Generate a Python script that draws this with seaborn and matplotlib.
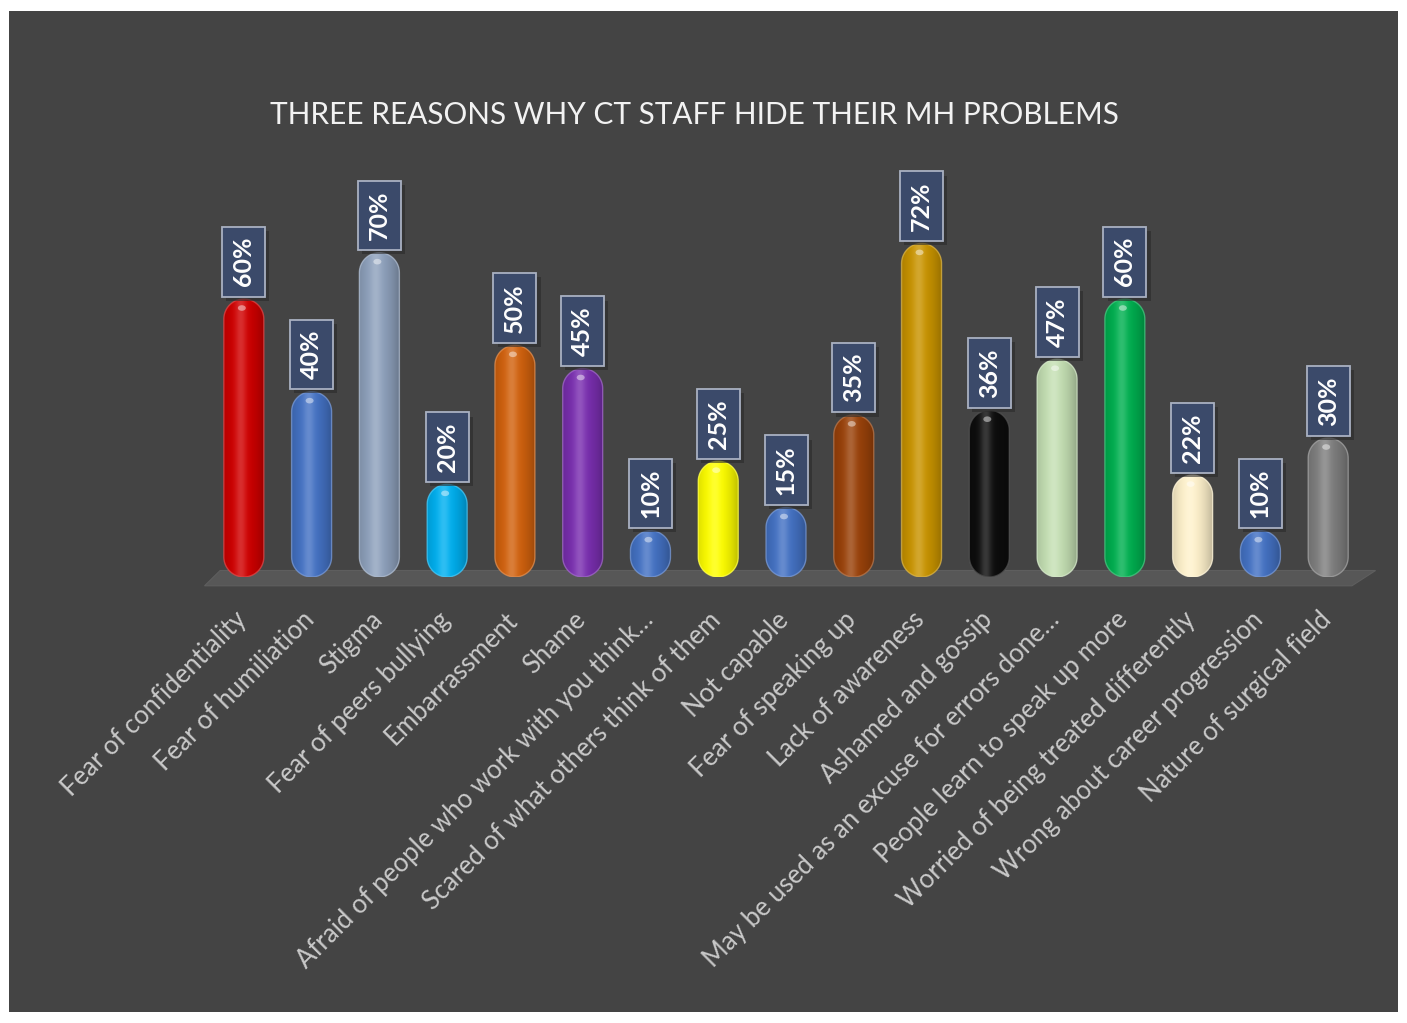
import numpy as np
import pandas as pd
import matplotlib
matplotlib.use("Agg")
import matplotlib.pyplot as plt
import matplotlib.colors as mcolors
import matplotlib.patheffects as pe
import matplotlib.transforms as mtransforms
from matplotlib.path import Path
from matplotlib.patches import PathPatch, Polygon, Rectangle, Ellipse
import seaborn as sns

# ---------------- data ----------------
title = "THREE REASONS WHY CT STAFF HIDE THEIR MH PROBLEMS"
categories = [
    "Fear of confidentiality",
    "Fear of humiliation",
    "Stigma",
    "Fear of peers bullying",
    "Embarrassment",
    "Shame",
    "Afraid of people who work with you think…",
    "Scared of what others think of them",
    "Not capable",
    "Fear of speaking up",
    "Lack of awareness",
    "Ashamed and gossip",
    "May be used as an excuse for errors done…",
    "People learn to speak up more",
    "Worried of being treated differently",
    "Wrong about career progression",
    "Nature of surgical field",
]
values = [60, 40, 70, 20, 50, 45, 10, 25, 15, 35, 72, 36, 47, 60, 22, 10, 30]
bar_colors = [
    "#d00000", "#4472c4", "#8fa2bd", "#00b0f0", "#d2620e", "#7a2fb0",
    "#4472c4", "#ffff00", "#4472c4", "#9a420a", "#c99400", "#0d0d0d",
    "#c5e0b4", "#00b050", "#fff2cc", "#4472c4", "#7f7f7f",
]

# ---------------- style ----------------
sns.set_style("white")
plt.rcParams["font.family"] = ["Lato", "DejaVu Sans"]

W, H = 1407, 1023
fig = plt.figure(figsize=(W / 100, H / 100), dpi=100)
fig.patch.set_facecolor("white")
fig.add_artist(Rectangle((9 / W, 1 - 1012 / H), (1398 - 9) / W, (1012 - 11) / H,
                         transform=fig.transFigure, facecolor="#444444",
                         edgecolor="none", zorder=0))

ax = fig.add_axes([193 / W, 1 - 577 / H, 1186 / W, 417 / H])
ax.set_facecolor("none")

df = pd.DataFrame({"reason": categories, "pct": values})
sns.barplot(data=df, x="reason", y="pct", hue="reason", palette=bar_colors,
            legend=False, width=0.59, saturation=1, ax=ax)

XLIM = (-0.75, 16.75)
YLIM = (0, 90)
ax.set_xlim(*XLIM)
ax.set_ylim(*YLIM)

p0 = ax.transData.transform((0, 0))
p1 = ax.transData.transform((1, 1))
aspect = (p1[0] - p0[0]) / (p1[1] - p0[1])


def capsule_path(x0, w, h):
    """Pill shape spanning the bar rectangle (x0, 0, w, h) in data coords."""
    r = w / 2
    rv = min(r * aspect, h / 2)
    cx = x0 + r
    th_top = np.linspace(0, np.pi, 40)
    th_bot = np.linspace(np.pi, 2 * np.pi, 40)
    top = np.column_stack([cx + r * np.cos(th_top), h - rv + rv * np.sin(th_top)])
    bot = np.column_stack([cx + r * np.cos(th_bot), rv + rv * np.sin(th_bot)])
    verts = np.vstack([top, bot, top[:1]])
    codes = [Path.MOVETO] + [Path.LINETO] * (len(verts) - 2) + [Path.CLOSEPOLY]
    return Path(verts, codes), rv


# floor
floor = Polygon([(-0.58, -1.9), (16.35, -1.9), (16.7, 1.4), (-0.35, 1.4)],
                closed=True, facecolor="#575757", edgecolor="#5e5e5e",
                lw=0.8, zorder=1, clip_on=False)
ax.add_patch(floor)

t = np.linspace(0, 1, 80)
for patch in list(ax.patches):
    if patch is floor:
        continue
    x0 = patch.get_x()
    w = patch.get_width()
    h = patch.get_height()
    base = np.array(mcolors.to_rgb(patch.get_facecolor()))
    patch.set_visible(False)

    path, rv = capsule_path(x0, w, h)
    cap = PathPatch(path, facecolor=base, edgecolor="none", zorder=2)
    ax.add_patch(cap)

    k = 1 - ((t - 0.42) / 0.62) ** 2
    shade = base[None, :] * (0.72 + 0.28 * k[:, None])
    hl = 0.18 * np.exp(-((t - 0.42) / 0.14) ** 2)
    shade = shade + (1 - shade) * hl[:, None]
    grad = np.clip(shade, 0, 1)[None, :, :]
    im = ax.imshow(grad, extent=(x0, x0 + w, 0, h), aspect="auto",
                   interpolation="bicubic", zorder=3)
    im.set_clip_path(cap)

    edge = np.clip(base + (1 - base) * 0.30, 0, 1)
    ax.add_patch(PathPatch(path, facecolor="none", edgecolor=edge, lw=1.0,
                           alpha=0.7, zorder=4))

    ax.add_patch(Ellipse((x0 + w * 0.45, h - rv * 0.45), w * 0.2, rv * 0.28,
                         facecolor="white", alpha=0.45, edgecolor="none",
                         zorder=5))

ax.set_xlim(*XLIM)
ax.set_ylim(*YLIM)

# value labels
for i, v in enumerate(values):
    txt = ax.annotate(f"{v}%", xy=(i, v), xytext=(0, 9), textcoords="offset points",
                      rotation=90, ha="center", va="bottom", fontsize=18,
                      fontweight="bold", color="white", zorder=6,
                      annotation_clip=False,
                      bbox=dict(boxstyle="square,pad=0.40", fc="#3b4a6a",
                                ec="#a9b1c2", lw=1.3))
    txt.get_bbox_patch().set_path_effects(
        [pe.SimplePatchShadow(offset=(3, -3), shadow_rgbFace="#2a2a2a", alpha=0.6),
         pe.Normal()])

# axes cosmetics
ax.set_xlabel("")
ax.set_ylabel("")
ax.set_yticks([])
ax.set_xticks(range(len(categories)))
ax.set_xticklabels(categories, rotation=45, ha="right", rotation_mode="anchor",
                   fontsize=18.5, color="#c9c9c9")
ax.tick_params(axis="x", length=0, pad=16)
shift = mtransforms.ScaledTranslation(-10 / 100, -8 / 100, fig.dpi_scale_trans)
for lab in ax.get_xticklabels():
    lab.set_transform(lab.get_transform() + shift)
for s in ax.spines.values():
    s.set_visible(False)

fig.text(694 / W, 1 - 115 / H, title, ha="center", va="center",
         fontsize=21.4, color="#f2f2f2")

fig.savefig("out.png", dpi=100, facecolor=fig.get_facecolor())
